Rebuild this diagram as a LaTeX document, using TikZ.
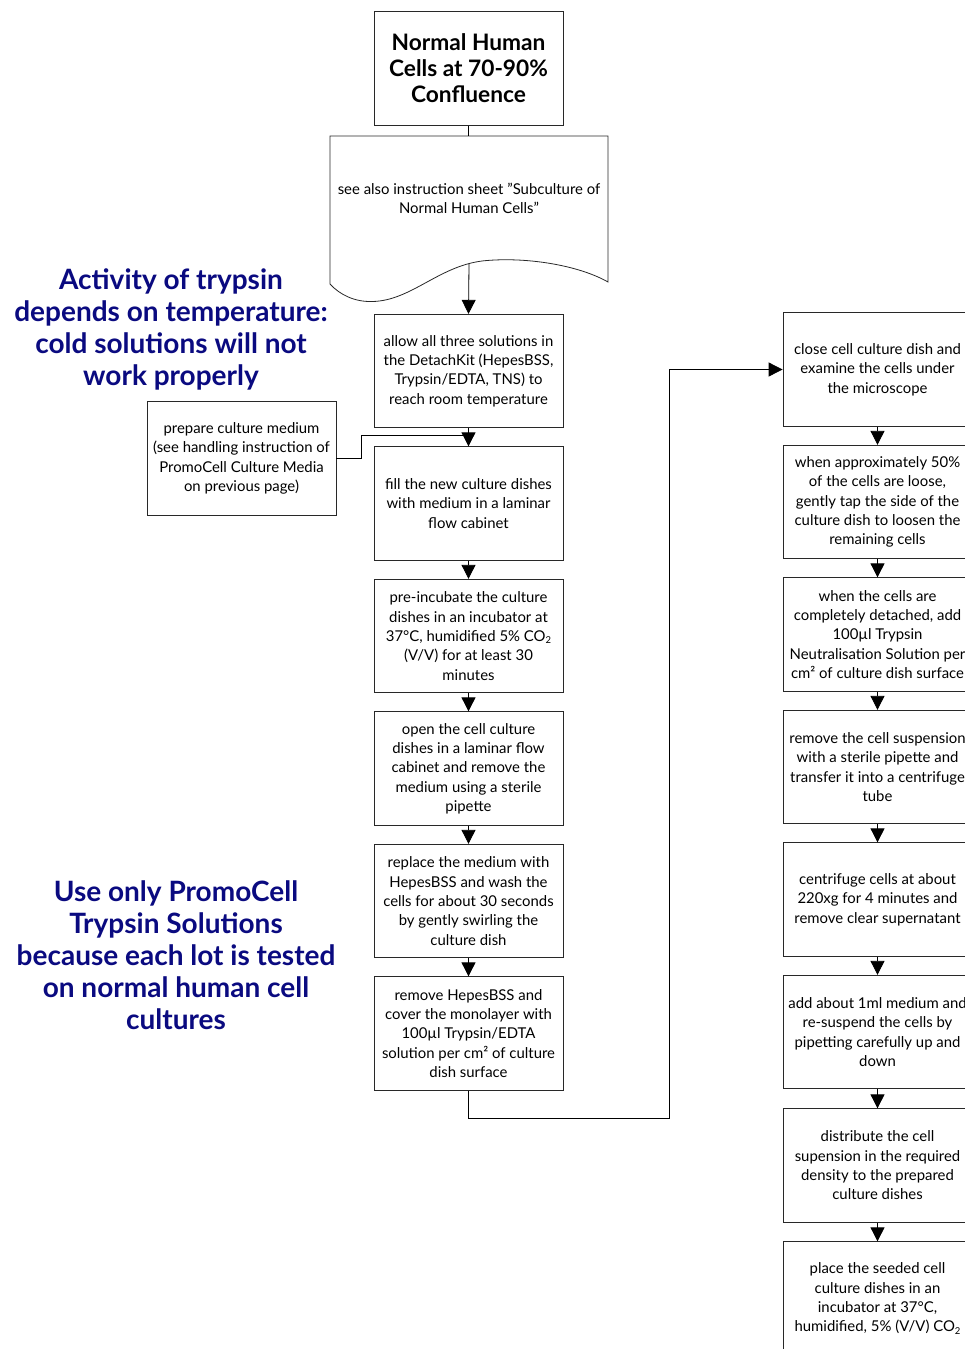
\documentclass[tikz,border=0pt]{standalone}
\usepackage{fontspec}
\setmainfont{Lato}
\usetikzlibrary{arrows.meta}
\definecolor{navyblue}{RGB}{10,10,128}
\definecolor{boxline}{RGB}{40,40,40}
\newcommand{\subtwo}{\raisebox{-0.3ex}{\fontsize{9.5}{9.5}\selectfont 2}}
\newcommand{\dq}{\symbol{34}}
\begin{document}
\begin{tikzpicture}[x=1pt,y=-1pt,
  stepbox/.style={draw=boxline, line width=0.8pt, minimum width=189pt, minimum height=113.5pt,
    align=center, inner sep=1pt, font=\fontsize{14.9}{19.3}\selectfont},
  titlebox/.style={stepbox, font=\bfseries\fontsize{22.7}{26}\selectfont},
  note/.style={align=center, text=navyblue, font=\bfseries\fontsize{28}{32}\selectfont},
  conn/.style={line width=0.8pt, draw=black},
  arr/.style={conn, -{Triangle[width=14pt,length=14pt]}}]
\useasboundingbox (0,0) rectangle (965,1349);
\clip (0,0) rectangle (965,1349);
\fill[white] (0,0) rectangle (965,1349);

% title
\node[titlebox] (top) at (468.5,68.5) {Normal Human\\Cells at 70-90\%\\Confluence};

% document shape
\draw[draw=boxline, line width=0.8pt] (330,136) -- (608,136) -- (608,282)
  .. controls (580,266) and (530,257) .. (487,260.5)
  .. controls (440,264) and (412,301) .. (372,301.5)
  .. controls (355,302) and (340,295) .. (330,284) -- cycle;
\node[align=center, font=\fontsize{14.9}{19.3}\selectfont] (doc) at (469,198.5)
  {see also instruction sheet \dq Subculture of\\Normal Human Cells\dq};
\coordinate (docbot) at (469,264);

% left column
\node[stepbox] (b1) at (468.5,371) {allow all three solutions in\\the DetachKit (HepesBSS,\\Trypsin/EDTA, TNS) to\\reach room temperature};
\node[stepbox] (b2) at (468.5,503.5) {fill the new culture dishes\\with medium in a laminar\\flow cabinet};
\node[stepbox] (b3) at (468.5,636) {pre-incubate the culture\\dishes in an incubator at\\37°C, humidified 5\% CO\subtwo\\(V/V) for at least 30\\minutes};
\node[stepbox] (b4) at (468.5,768.5) {open the cell culture\\dishes in a laminar flow\\cabinet and remove the\\medium using a sterile\\pipette};
\node[stepbox] (b5) at (468.5,901) {replace the medium with\\HepesBSS and wash the\\cells for about 30 seconds\\by gently swirling the\\culture dish};
\node[stepbox] (b6) at (468.5,1033.5) {remove HepesBSS and\\cover the monolayer with\\100µl Trypsin/EDTA\\solution per cm² of culture\\dish surface};

% side box
\node[stepbox] (side) at (241.5,458.5) {prepare culture medium\\(see handling instruction of\\PromoCell Culture Media\\on previous page)};

% right column
\node[stepbox] (r1) at (877.5,369.5) {close cell culture dish and\\examine the cells under\\the microscope};
\node[stepbox] (r2) at (877.5,502) {when approximately 50\%\\of the cells are loose,\\gently tap the side of the\\culture dish to loosen the\\remaining cells};
\node[stepbox] (r3) at (877.5,634.5) {when the cells are\\completely detached, add\\100µl Trypsin\\Neutralisation Solution per\\cm² of culture dish surface};
\node[stepbox] (r4) at (877.5,767) {remove the cell suspension\\with a sterile pipette and\\transfer it into a centrifuge\\tube};
\node[stepbox] (r5) at (877.5,899.5) {centrifuge cells at about\\220xg for 4 minutes and\\remove clear supernatant};
\node[stepbox] (r6) at (877.5,1032) {add about 1ml medium and\\re-suspend the cells by\\pipetting carefully up and\\down};
\node[stepbox] (r7) at (877.5,1165.5) {distribute the cell\\supension in the required\\density to the prepared\\culture dishes};
\node[stepbox] (r8) at (877.5,1298.5) {place the seeded cell\\culture dishes in an\\incubator at 37°C,\\humidified, 5\% (V/V) CO\subtwo};

% notes
\node[note] (n1) at (171,329) {Activity of trypsin\\depends on temperature:\\cold solutions will not\\work properly};
\node[note] (n2) at (176,955) {Use only PromoCell\\Trypsin Solutions\\because each lot is tested\\on normal human cell\\cultures};

% connectors
\draw[conn] (top.south) -- (top.south |- 0,136);
\draw[arr] (docbot) -- (b1.north);
\coordinate (j1) at (361,458.5);
\coordinate (j2) at (361,435.5);
\coordinate (j3) at (469,435.5);
\draw[conn] (side.east) -- (j1) -- (j2) -- (j3);
\draw[arr] (b1) -- (b2);
\draw[arr] (b2) -- (b3);
\draw[arr] (b3) -- (b4);
\draw[arr] (b4) -- (b5);
\draw[arr] (b5) -- (b6);
\coordinate (c1) at (468.5,1118.5);
\coordinate (c2) at (669.5,1118.5);
\coordinate (c3) at (669.5,369.5);
\draw[arr] (b6.south) -- (c1) -- (c2) -- (c3) -- (r1.west);
\draw[arr] (r1) -- (r2);
\draw[arr] (r2) -- (r3);
\draw[arr] (r3) -- (r4);
\draw[arr] (r4) -- (r5);
\draw[arr] (r5) -- (r6);
\draw[arr] (r6) -- (r7);
\draw[arr] (r7) -- (r8);
\end{tikzpicture}
\end{document}
